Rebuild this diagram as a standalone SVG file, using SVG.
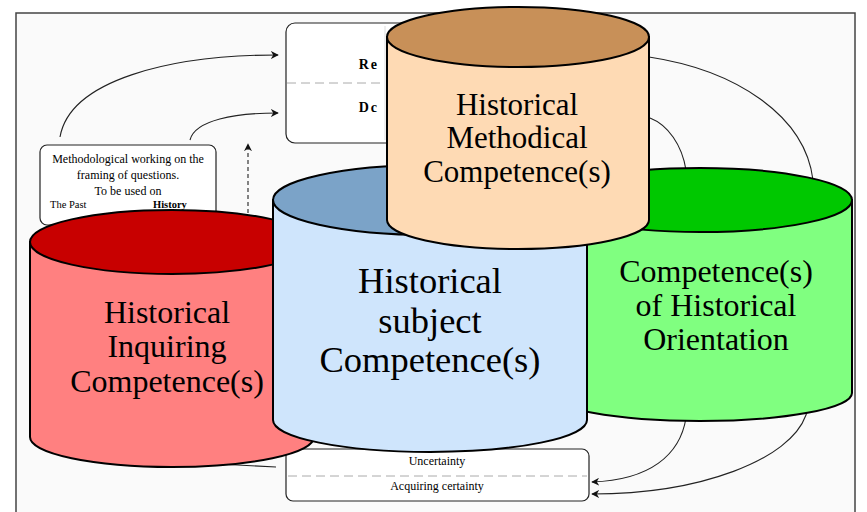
<svg xmlns="http://www.w3.org/2000/svg" width="867" height="512" viewBox="0 0 867 512">
<defs>
<style>
.serif{font-family:"Liberation Serif","Times New Roman",serif;fill:#000}
.big{text-anchor:middle}
.small{font-size:12px;text-anchor:middle}
.cyl{stroke:#000;stroke-width:2}
.conn{fill:none;stroke:#222;stroke-width:1.1}
.box{fill:#fff;stroke:#222;stroke-width:1.2}
.dash{stroke:#aaa;stroke-width:1;stroke-dasharray:9,5}
</style>
<marker id="ah" viewBox="0 0 10 10" refX="9" refY="5" markerWidth="8" markerHeight="8" orient="auto" markerUnits="userSpaceOnUse">
<path d="M0,0 L10,5 L0,10 L3,5 Z" fill="#111"/>
</marker>
</defs>
<rect x="0" y="0" width="867" height="512" fill="#fff"/>
<rect x="16" y="13" width="839" height="510" fill="#fafafa" stroke="#444" stroke-width="1.5"/>

<g id="box-top">
<rect class="box" x="286" y="23" width="200" height="120" rx="9"/>
<line x1="385" y1="26" x2="385" y2="140" stroke="#ddd" stroke-width="1"/>
<line class="dash" x1="287" y1="83" x2="385" y2="83"/>
<text class="serif" x="379" y="69" font-size="14" font-weight="bold" text-anchor="end" letter-spacing="2">Re</text>
<text class="serif" x="379" y="112" font-size="14" font-weight="bold" text-anchor="end" letter-spacing="2">Dc</text>
</g>

<g id="connectors">
<path class="conn" d="M60,137 C70,80 170,55 278,55" marker-end="url(#ah)"/>
<path class="conn" d="M190,140 C195,120 235,113 278,113" marker-end="url(#ah)"/>
<path class="conn" d="M248,213 L248,144" stroke-dasharray="4,3" marker-end="url(#ah)"/>
<path class="conn" d="M649,57 C735,70 805,115 813,180 L812,380 C812,395 810,405 806,415 C790,460 700,494 592,494" marker-end="url(#ah)"/>
<path class="conn" d="M650,118 C668,125 682,145 686,170 L686,418 C680,455 650,480 592,482" marker-end="url(#ah)"/>
<path class="conn" d="M200,463 L276,467"/>
</g>

<g id="box-left">
<rect class="box" x="40" y="145" width="176" height="80" rx="7"/>
<text class="serif small" x="128" y="163">Methodological working on the</text>
<text class="serif small" x="128" y="179">framing of questions.</text>
<text class="serif small" x="128" y="195">To be used on</text>
<text class="serif" x="50" y="208" font-size="10.5">The Past</text>
<text class="serif" x="153" y="208" font-size="10.5" font-weight="bold">History</text>
</g>

<g id="box-bottom">
<rect class="box" x="286" y="449" width="303" height="52" rx="7"/>
<line class="dash" x1="288" y1="476" x2="587" y2="476"/>
<text class="serif small" x="437" y="465">Uncertainty</text>
<text class="serif small" x="437" y="490">Acquiring certainty</text>
</g>

<g id="cyl-inquiring">
<path class="cyl" fill="#ff8080" d="M30,242 L30,437 A142,30 0 0 0 314,437 L314,242 Z"/>
<ellipse class="cyl" cx="172" cy="242" rx="142" ry="32" fill="#c80000"/>
<text class="serif big" x="167" y="323" font-size="32">Historical</text>
<text class="serif big" x="167" y="357" font-size="32">Inquiring</text>
<text class="serif big" x="167" y="392" font-size="32">Competence(s)</text>
</g>

<g id="cyl-orientation">
<path class="cyl" fill="#80ff80" d="M548,200 L548,393 A152,28 0 0 0 852,393 L852,200 Z"/>
<ellipse class="cyl" cx="700" cy="200" rx="152" ry="32" fill="#00c800"/>
<text class="serif big" x="716" y="282" font-size="32">Competence(s)</text>
<text class="serif big" x="716" y="316" font-size="32">of Historical</text>
<text class="serif big" x="716" y="350" font-size="32">Orientation</text>
</g>

<g id="cyl-subject">
<path class="cyl" fill="#cfe5fc" d="M273,200 L273,420 A157,32 0 0 0 587,420 L587,200 Z"/>
<ellipse class="cyl" cx="430" cy="200" rx="157" ry="35" fill="#7ba3c8"/>
<text class="serif big" x="430" y="293" font-size="36.5">Historical</text>
<text class="serif big" x="430" y="333" font-size="36.5">subject</text>
<text class="serif big" x="430" y="372" font-size="36.5">Competence(s)</text>
</g>

<g id="cyl-methodical">
<path class="cyl" fill="#fedab4" d="M387,37 L387,220 A131,29 0 0 0 649,220 L649,37 Z"/>
<ellipse class="cyl" cx="518" cy="37" rx="131" ry="30" fill="#c89058"/>
<text class="serif big" x="517" y="115" font-size="31">Historical</text>
<text class="serif big" x="517" y="148" font-size="31">Methodical</text>
<text class="serif big" x="517" y="182" font-size="31">Competence(s)</text>
</g>
</svg>
